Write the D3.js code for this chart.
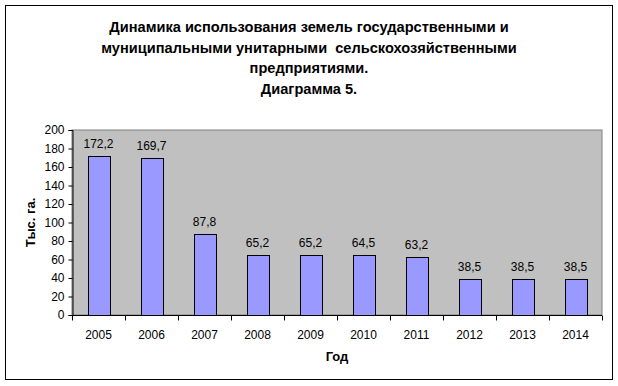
<!DOCTYPE html>
<html>
<head>
<meta charset="utf-8">
<script src="https://cdn.jsdelivr.net/npm/d3@7"></script>
<style>
  body { margin: 0; background: #fff; }
  text { font-family: "Liberation Sans", Arial, sans-serif; }
</style>
</head>
<body>
<div id="chart"></div>
<script>
var years = ["2005", "2006", "2007", "2008", "2009", "2010", "2011", "2012", "2013", "2014"];
var values = [172.2, 169.7, 87.8, 65.2, 65.2, 64.5, 63.2, 38.5, 38.5, 38.5];
var yTicks = [0, 20, 40, 60, 80, 100, 120, 140, 160, 180, 200];
var titleLines = ["Динамика использования земель государственными и",
                  "муниципальными унитарными  сельскохозяйственными",
                  "предприятиями.",
                  "Диаграмма 5."];

var W = 618, H = 386;
var margin = {top: 130, right: 16, bottom: 71, left: 72};
var width = W - margin.left - margin.right,
    height = H - margin.top - margin.bottom;

var svg = d3.select("#chart").append("svg").attr("width", W).attr("height", H);

// outer frame
svg.append("rect").attr("x", 5.5).attr("y", 5.5).attr("width", 607).attr("height", 374)
    .attr("fill", "#fff").attr("stroke", "#000");

svg.selectAll("text.title").data(titleLines).enter().append("text")
    .attr("class", "title")
    .attr("x", 309).attr("y", function(d, i){ return 32 + i * 20.5; })
    .attr("text-anchor", "middle")
    .style("font-size", "14.6px").style("font-weight", "bold")
    .style("white-space", "pre")
    .text(function(d){ return d; });

var g = svg.append("g").attr("transform", "translate(" + margin.left + "," + margin.top + ")");

var x = d3.scaleBand().domain(years).range([0, width]).paddingInner(0.585).paddingOuter(0.2925);
var y = d3.scaleLinear().domain([0, 200]).range([height, 0]);

g.append("rect").attr("width", width).attr("height", height)
    .attr("fill", "#c0c0c0").attr("stroke", "#808080");

g.selectAll("rect.bar").data(values).enter().append("rect")
    .attr("class", "bar")
    .attr("x", function(d, i){ return Math.round(x(years[i])) + 0.5; })
    .attr("y", function(d){ return Math.round(y(d)) + 0.5; })
    .attr("width", Math.round(x.bandwidth()))
    .attr("height", function(d){ return Math.round(height - y(d)); })
    .attr("fill", "#9999ff").attr("stroke", "#000");

g.selectAll("text.val").data(values).enter().append("text")
    .attr("class", "val")
    .attr("x", function(d, i){ return x(years[i]) + x.bandwidth() / 2; })
    .attr("y", function(d){ return y(d) - 8; })
    .attr("text-anchor", "middle")
    .style("font-size", "12px")
    .text(function(d){ return d.toFixed(1).replace(".", ","); });

// y axis
var yAxis = g.append("g").attr("transform", "translate(0.5,0)")
    .call(d3.axisLeft(y).tickValues(yTicks).tickSize(4).tickPadding(4));
yAxis.select(".domain").attr("stroke", "#000");
yAxis.selectAll("text").style("font-size", "12px").attr("fill", "#000")
    .style("font-family", "Liberation Sans, Arial, sans-serif");

// x axis with ticks between categories
var xg = g.append("g").attr("transform", "translate(0," + (height + 0.5) + ")");
xg.append("line").attr("x1", 0).attr("x2", width).attr("stroke", "#000");
var step = x.step();
xg.selectAll("line.tk").data(d3.range(years.length + 1)).enter().append("line")
    .attr("class", "tk")
    .attr("x1", function(i){ return Math.round(i * step) + 0.5; })
    .attr("x2", function(i){ return Math.round(i * step) + 0.5; })
    .attr("y1", 0).attr("y2", 5).attr("stroke", "#000");
xg.selectAll("text").data(years).enter().append("text")
    .attr("x", function(d){ return x(d) + x.bandwidth() / 2; })
    .attr("y", 23)
    .attr("text-anchor", "middle")
    .style("font-size", "12px")
    .text(function(d){ return d; });

svg.append("text").attr("x", 337).attr("y", 361)
    .attr("text-anchor", "middle")
    .style("font-size", "13px").style("font-weight", "bold")
    .text("Год");

svg.append("text")
    .attr("transform", "translate(35," + (margin.top + height / 2) + ") rotate(-90)")
    .attr("text-anchor", "middle")
    .style("font-size", "13px").style("font-weight", "bold")
    .text("Тыс. га.");
</script>
</body>
</html>
